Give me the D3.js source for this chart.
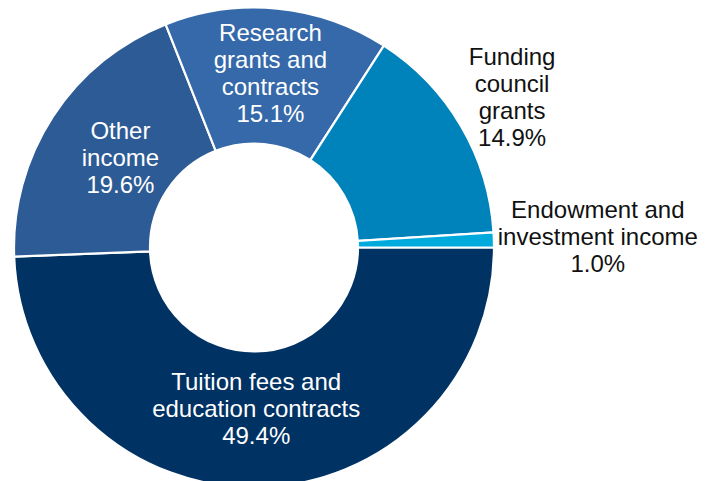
<!DOCTYPE html>
<html>
<head>
<meta charset="utf-8">
<script src="https://cdn.jsdelivr.net/npm/d3@7"></script>
<style>
  html, body { margin: 0; padding: 0; background: #ffffff; }
  svg { display: block; }
  text { font-family: "Liberation Sans", Arial, Helvetica, sans-serif; }
</style>
</head>
<body>
<script>
// Income sources, in clockwise order starting at 3 o'clock
const categories = [
  ["Tuition fees and", "education contracts"],
  ["Other", "income"],
  ["Research", "grants and", "contracts"],
  ["Funding", "council", "grants"],
  ["Endowment and", "investment income"]
];
const shares = [49.4, 19.6, 15.1, 14.9, 1.0];
const colors = ["#003263", "#2d5b95", "#3569a9", "#0082ba", "#00aadc"];

// Label placement: polar radius from centre and angular nudge (degrees)
const labelRadius = [161, 161, 175, 299, 344];
const labelNudge = [0.3, 0.8, -0.2, 0.1, 0];
const labelInside = [true, true, true, false, false];

const width = 708, height = 481;
const cx = 254, cy = 247.5;
const outerR = 240, innerR = 104;
const fontSize = 24;
const lineH = 27;

const svg = d3.select("body").append("svg")
  .attr("width", width)
  .attr("height", height);

const g = svg.append("g").attr("transform", `translate(${cx},${cy})`);

const pie = d3.pie()
  .sort(null)
  .value(d => d)
  .startAngle(Math.PI / 2)
  .endAngle(Math.PI / 2 + 2 * Math.PI);

const arc = d3.arc().innerRadius(innerR).outerRadius(outerR);

const arcs = pie(shares);

g.selectAll("path.slice")
  .data(arcs)
  .join("path")
  .attr("class", "slice")
  .attr("d", arc)
  .attr("fill", (d, i) => colors[i])
  .attr("stroke", "#ffffff")
  .attr("stroke-width", 2.2)
  .attr("stroke-linejoin", "miter");

const fmt = d3.format(".1f");

g.selectAll("text.label")
  .data(arcs)
  .join("text")
  .attr("class", "label")
  .attr("text-anchor", "middle")
  .attr("font-size", fontSize)
  .attr("fill", (d, i) => labelInside[i] ? "#ffffff" : "#111111")
  .each(function (d, i) {
    const mid = (d.startAngle + d.endAngle) / 2 + labelNudge[i] * Math.PI / 180;
    const r = labelRadius[i];
    const x = r * Math.sin(mid);
    const y = -r * Math.cos(mid);
    const lines = categories[i].concat([fmt(d.data) + "%"]);
    const firstBaseline = y - (lines.length - 1) / 2 * lineH + fontSize * 0.355;
    const t = d3.select(this);
    lines.forEach((ln, k) => {
      t.append("tspan")
        .attr("x", x)
        .attr("y", firstBaseline + k * lineH)
        .text(ln);
    });
  });
</script>
</body>
</html>
